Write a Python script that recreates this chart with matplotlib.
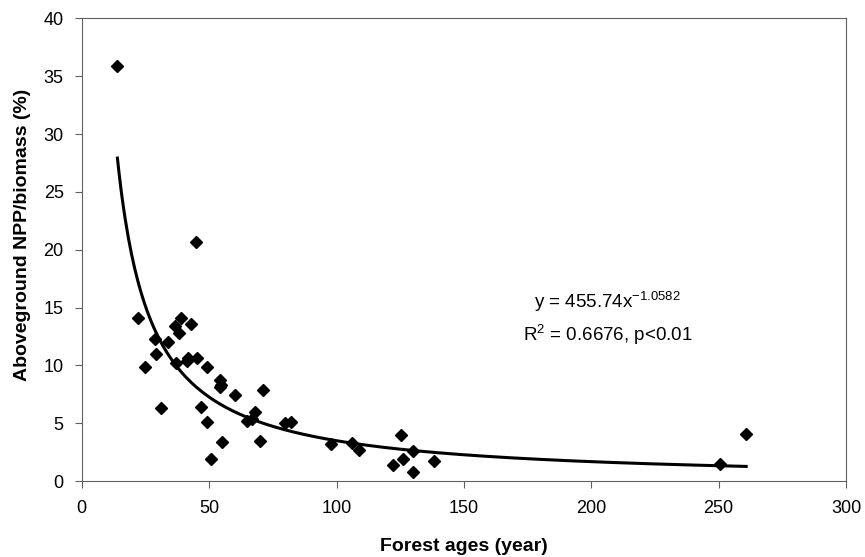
import numpy as np
import matplotlib.pyplot as plt

plt.rcParams['font.family'] = ['Liberation Sans', 'DejaVu Sans']
plt.rcParams['mathtext.fontset'] = 'custom'
plt.rcParams['mathtext.rm'] = 'Liberation Sans'

# dữ liệu
ages = [14.0, 44.9, 21.9, 38.9, 43.0, 36.7, 38.0, 28.8, 34.0, 29.1, 24.9, 36.9,
        41.3, 41.9, 45.2, 49.1, 54.1, 54.8, 54.1, 60.0, 71.0, 31.0, 46.9, 68.1,
        64.9, 66.8, 49.1, 79.9, 82.2, 55.0, 70.1, 50.8, 97.9, 106.2, 109.0,
        125.2, 130.1, 126.2, 122.3, 130.1, 138.3, 250.5, 260.8]
ratio = [35.9, 20.7, 14.1, 14.1, 13.6, 13.4, 12.8, 12.3, 12.0, 11.0, 9.9, 10.2,
         10.4, 10.6, 10.6, 9.9, 8.7, 8.3, 8.1, 7.4, 7.9, 6.3, 6.4, 6.0,
         5.2, 5.4, 5.1, 5.0, 5.1, 3.4, 3.5, 1.9, 3.2, 3.3, 2.7,
         4.0, 2.6, 1.9, 1.4, 0.8, 1.7, 1.5, 4.1]

a, b = 455.74, -1.0582

fig = plt.figure(figsize=(8.65, 5.57), dpi=100)
ax = fig.add_axes([0.0945, 0.1364, 0.8836, 0.8307])

ax.plot(ages, ratio, 'D', color='black', markersize=6.5, zorder=3)

xf = np.linspace(min(ages), max(ages), 400)
ax.plot(xf, a * xf ** b, color='black', linewidth=2.2)

ax.set_xlim(0, 300)
ax.set_ylim(0, 40)
ax.set_xticks(range(0, 301, 50))
ax.set_yticks(range(0, 41, 5))
ax.tick_params(labelsize=13, length=5, color='#606060')
ax.tick_params(axis='x', pad=9)
ax.tick_params(axis='y', pad=8)
for s in ax.spines.values():
    s.set_color('#606060')

ax.set_xlabel('Forest ages (year)', fontsize=14, fontweight='bold')
ax.set_ylabel('Aboveground NPP/biomass (%)', fontsize=14, fontweight='bold')
ax.xaxis.set_label_coords(0.5, -0.1405)
ax.xaxis.label.set_va('center')
ax.yaxis.set_label_coords(-0.0775, 0.532)
ax.yaxis.label.set_va('center')

ax.text(206.4, 15.5, 'y = 455.74x$^{\\mathrm{-1.0582}}$', fontsize=13.5, ha='center', va='center')
ax.text(206.4, 12.7, 'R$^{\\mathrm{2}}$ = 0.6676, p<0.01', fontsize=13.5, ha='center', va='center')

plt.savefig('out.png', dpi=100)
